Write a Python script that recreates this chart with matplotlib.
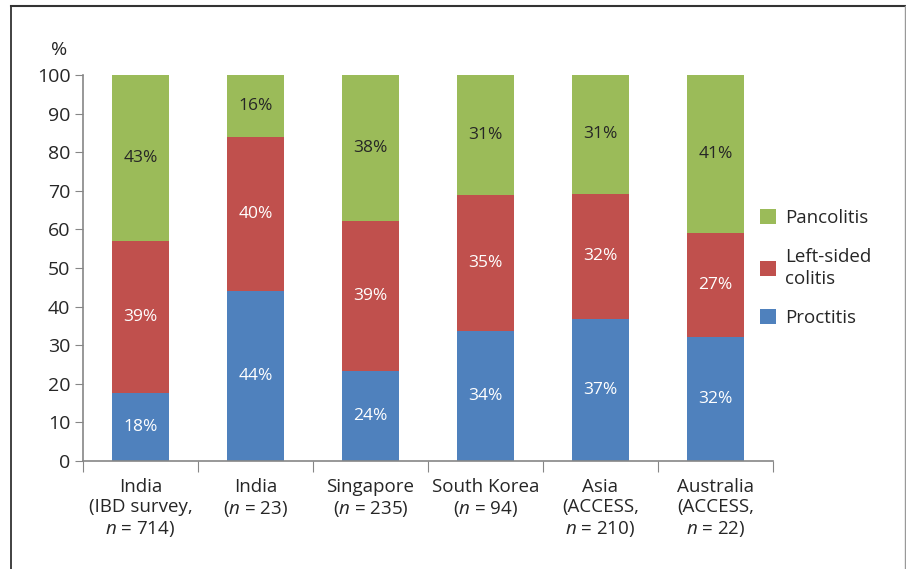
import matplotlib.pyplot as plt
from matplotlib.lines import Line2D
import numpy as np

plt.rcParams['font.family'] = ['Open Sans', 'DejaVu Sans']
plt.rcParams['mathtext.fontset'] = 'custom'
plt.rcParams['mathtext.it'] = 'Open Sans:italic'
plt.rcParams['mathtext.rm'] = 'Open Sans'

categories = ['India\n(IBD survey,\n$n$ = 714)', 'India\n($n$ = 23)', 'Singapore\n($n$ = 235)',
              'South Korea\n($n$ = 94)', 'Asia\n(ACCESS,\n$n$ = 210)', 'Australia\n(ACCESS,\n$n$ = 22)']
# bar heights
proctitis = [17.6, 44.0, 23.3, 33.7, 36.8, 32.1]
leftsided = [39.4, 39.9, 38.9, 35.2, 32.4, 27.0]
pancolitis = [43.0, 16.1, 37.8, 31.1, 30.8, 40.9]
# printed percentages
proctitis_lbl = [18, 44, 24, 34, 37, 32]
leftsided_lbl = [39, 40, 39, 35, 32, 27]
pancolitis_lbl = [43, 16, 38, 31, 31, 41]

c_blue = '#4F81BD'
c_red = '#C0504D'
c_green = '#9BBB59'
spine_c = '#868686'
txt_c = '#262626'

fig = plt.figure(figsize=(9.06, 5.69), dpi=100)
ax = fig.add_axes([83/906, 1-461/569, 690/906, 386/569])

x = np.arange(len(categories))
w = 0.5
p = np.array(proctitis)
l = np.array(leftsided)
g = np.array(pancolitis)
b1 = ax.bar(x, p, w, color=c_blue, label='Proctitis')
b2 = ax.bar(x, l, w, bottom=p, color=c_red, label='Left-sided\ncolitis')
b3 = ax.bar(x, g, w, bottom=p+l, color=c_green, label='Pancolitis')

for i in range(len(x)):
    ax.text(x[i], p[i]/2, '%d%%' % proctitis_lbl[i], ha='center', va='center', color='white', fontsize=12.5)
    ax.text(x[i], p[i]+l[i]/2, '%d%%' % leftsided_lbl[i], ha='center', va='center', color='white', fontsize=12.5)
    ax.text(x[i], p[i]+l[i]+g[i]/2, '%d%%' % pancolitis_lbl[i], ha='center', va='center', color=txt_c, fontsize=12.5)

ax.set_xlim(-0.5, len(x)-0.5)
ax.set_ylim(0, 100)
ax.set_yticks(range(0, 101, 10))
ax.tick_params(axis='y', direction='out', length=6, color=spine_c, labelsize=14, pad=3, labelcolor=txt_c)
ax.set_xticks(np.arange(-0.5, len(x), 1.0))
ax.set_xticklabels([])
ax.tick_params(axis='x', direction='out', length=8, color=spine_c)
for i in range(len(x)):
    ax.text(x[i], -4.4, categories[i], ha='center', va='top', fontsize=13.5, color=txt_c, linespacing=1.17)

for s in ['top', 'right']:
    ax.spines[s].set_visible(False)
for s in ['left', 'bottom']:
    ax.spines[s].set_color(spine_c)
    ax.spines[s].set_linewidth(1.2)

fig.text(59/906, 1-50/569, '%', ha='center', va='center', fontsize=14, color=txt_c)

h, lb = ax.get_legend_handles_labels()
leg = fig.legend(h[::-1], lb[::-1], loc='center left', bbox_to_anchor=(760/906, 1-268/569),
                 bbox_transform=fig.transFigure, frameon=False, borderaxespad=0, borderpad=0,
                 fontsize=13.5, handlelength=0.85, handleheight=0.85, labelspacing=1.1, handletextpad=0.5,
                 labelcolor=txt_c)
for t in leg.get_texts():
    t.set_linespacing(1.3)

# outer frame
fig.add_artist(Line2D([11/906, 11/906], [0, 1-6/569], color='#333333', lw=1.3))
fig.add_artist(Line2D([11/906, 905/906], [1-6/569, 1-6/569], color='#333333', lw=1.5))
fig.add_artist(Line2D([905/906, 905/906], [0, 1-6/569], color='#999999', lw=1.0))

plt.savefig('out.png', dpi=100)
